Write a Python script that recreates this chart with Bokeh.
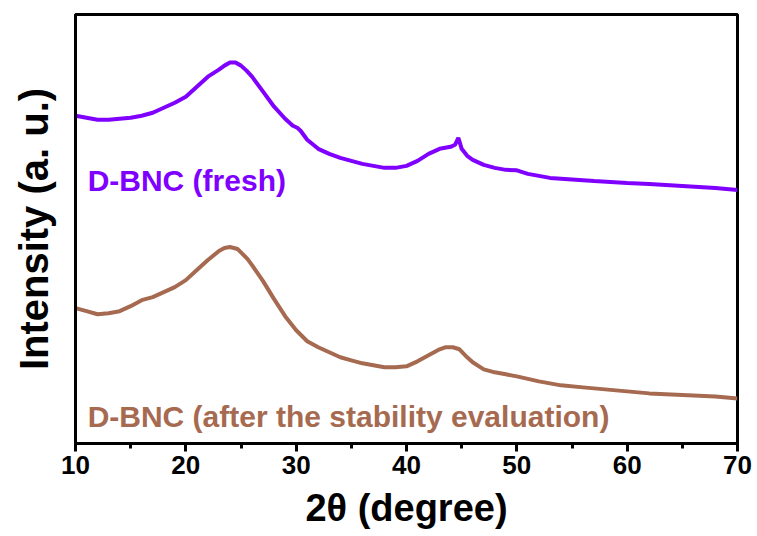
from bokeh.plotting import figure
from bokeh.models import FixedTicker, Range1d, Label
from bokeh.embed import file_html
from bokeh.resources import INLINE

# 2theta (degree) and intensity (a. u.)
fresh_x = [10, 11, 12, 13, 14, 15, 16, 17, 18, 19, 20, 21, 22, 23, 23.5, 24, 24.5, 25, 25.5, 26, 27, 28, 29,
           29.7, 30.1, 30.4, 31, 32, 33, 34, 35, 36, 37, 38, 39, 40, 41, 42, 43, 44, 44.4, 44.7, 45.0, 45.5,
           46, 47, 48, 49, 50, 51, 52, 53, 55, 57, 60, 62, 65, 68, 70]
fresh_py = [115, 117, 119, 119, 118, 117, 115, 112, 107, 102, 96, 86, 76, 69, 65, 62, 62, 65, 70, 76, 91, 106, 118,
            125, 127, 130, 139, 148, 153, 157, 160, 163, 165, 167, 167, 165, 160, 153, 148, 146, 144, 137, 148, 155,
            159, 164, 167, 169, 169.5, 173, 175, 177, 178.5, 180, 182, 183, 185, 187, 189]

after_x = [10, 11, 12, 13, 14, 15, 16, 17, 18, 19, 20, 21, 22, 23, 23.5, 24, 24.7, 25.6, 26, 27, 28, 29, 30, 31,
           32, 33, 34, 35, 36, 37, 38, 39, 40, 41, 42, 43, 43.5, 44.2, 44.8, 45.5, 46, 47, 48, 49, 50, 52, 54, 56,
           58, 60, 62, 65, 68, 70]
after_py = [307, 310, 313, 312, 310, 305, 299, 296, 291, 286, 279, 269, 259, 250, 247, 246, 248, 258, 264, 280,
            298, 315, 329, 340, 346, 351, 356, 359, 362, 364, 366, 366, 365, 360, 354, 348, 346, 346, 348, 356,
            361, 368, 371, 373, 375, 380, 384, 386, 388, 390, 392, 393.5, 395, 397]

BASE = 442
fresh_y = [BASE - v for v in fresh_py]
after_y = [BASE - v for v in after_py]

x_ticks = [10, 20, 30, 40, 50, 60, 70]
x_minor = [15, 25, 35, 45, 55, 65]

PURPLE = "#8000FF"
BROWN = "#A66A50"
FONT = "Liberation Sans"

p = figure(width=757, height=536, output_backend="svg", toolbar_location=None,
           x_range=Range1d(10, 70), y_range=Range1d(0, 428),
           min_border_left=75, min_border_right=20, min_border_top=14, min_border_bottom=93)

p.line(fresh_x, fresh_y, line_color=PURPLE, line_width=4)
p.line(after_x, after_y, line_color=BROWN, line_width=4)

p.add_layout(Label(x=11.1, y=262, text="D-BNC (fresh)", text_color=PURPLE, text_font=FONT,
                   text_font_style="bold", text_font_size="30px", text_baseline="alphabetic"))
p.add_layout(Label(x=11.1, y=27, text="D-BNC (after the stability evaluation)", text_color=BROWN,
                   text_font=FONT, text_font_style="bold", text_font_size="30px", text_baseline="alphabetic"))

p.grid.visible = False
p.background_fill_color = "white"
p.border_fill_color = "white"
p.outline_line_color = "black"
p.outline_line_width = 3

xa = p.xaxis[0]
xa.ticker = FixedTicker(ticks=x_ticks, minor_ticks=x_minor)
xa.axis_label = "2θ (degree)"
xa.axis_label_text_font = FONT
xa.axis_label_text_font_style = "bold"
xa.axis_label_text_font_size = "38px"
xa.axis_label_text_color = "black"
xa.axis_label_standoff = 10
xa.major_label_text_font = FONT
xa.major_label_text_font_style = "bold"
xa.major_label_text_font_size = "26px"
xa.major_label_text_color = "black"
xa.major_label_standoff = 4
xa.axis_line_width = 3
xa.axis_line_color = "black"
xa.major_tick_line_width = 3
xa.minor_tick_line_width = 3
xa.major_tick_out = 8
xa.major_tick_in = 0
xa.minor_tick_out = 5
xa.minor_tick_in = 0

ya = p.yaxis[0]
ya.ticker = FixedTicker(ticks=[])
ya.axis_label = "Intensity (a. u.)"
ya.axis_label_text_font = FONT
ya.axis_label_text_font_style = "bold"
ya.axis_label_text_font_size = "40px"
ya.axis_label_text_color = "black"
ya.axis_label_standoff = 20
ya.axis_line_width = 3
ya.axis_line_color = "black"
ya.major_tick_out = 0
ya.minor_tick_out = 0

open("out.html", "w").write(file_html(p, INLINE))
